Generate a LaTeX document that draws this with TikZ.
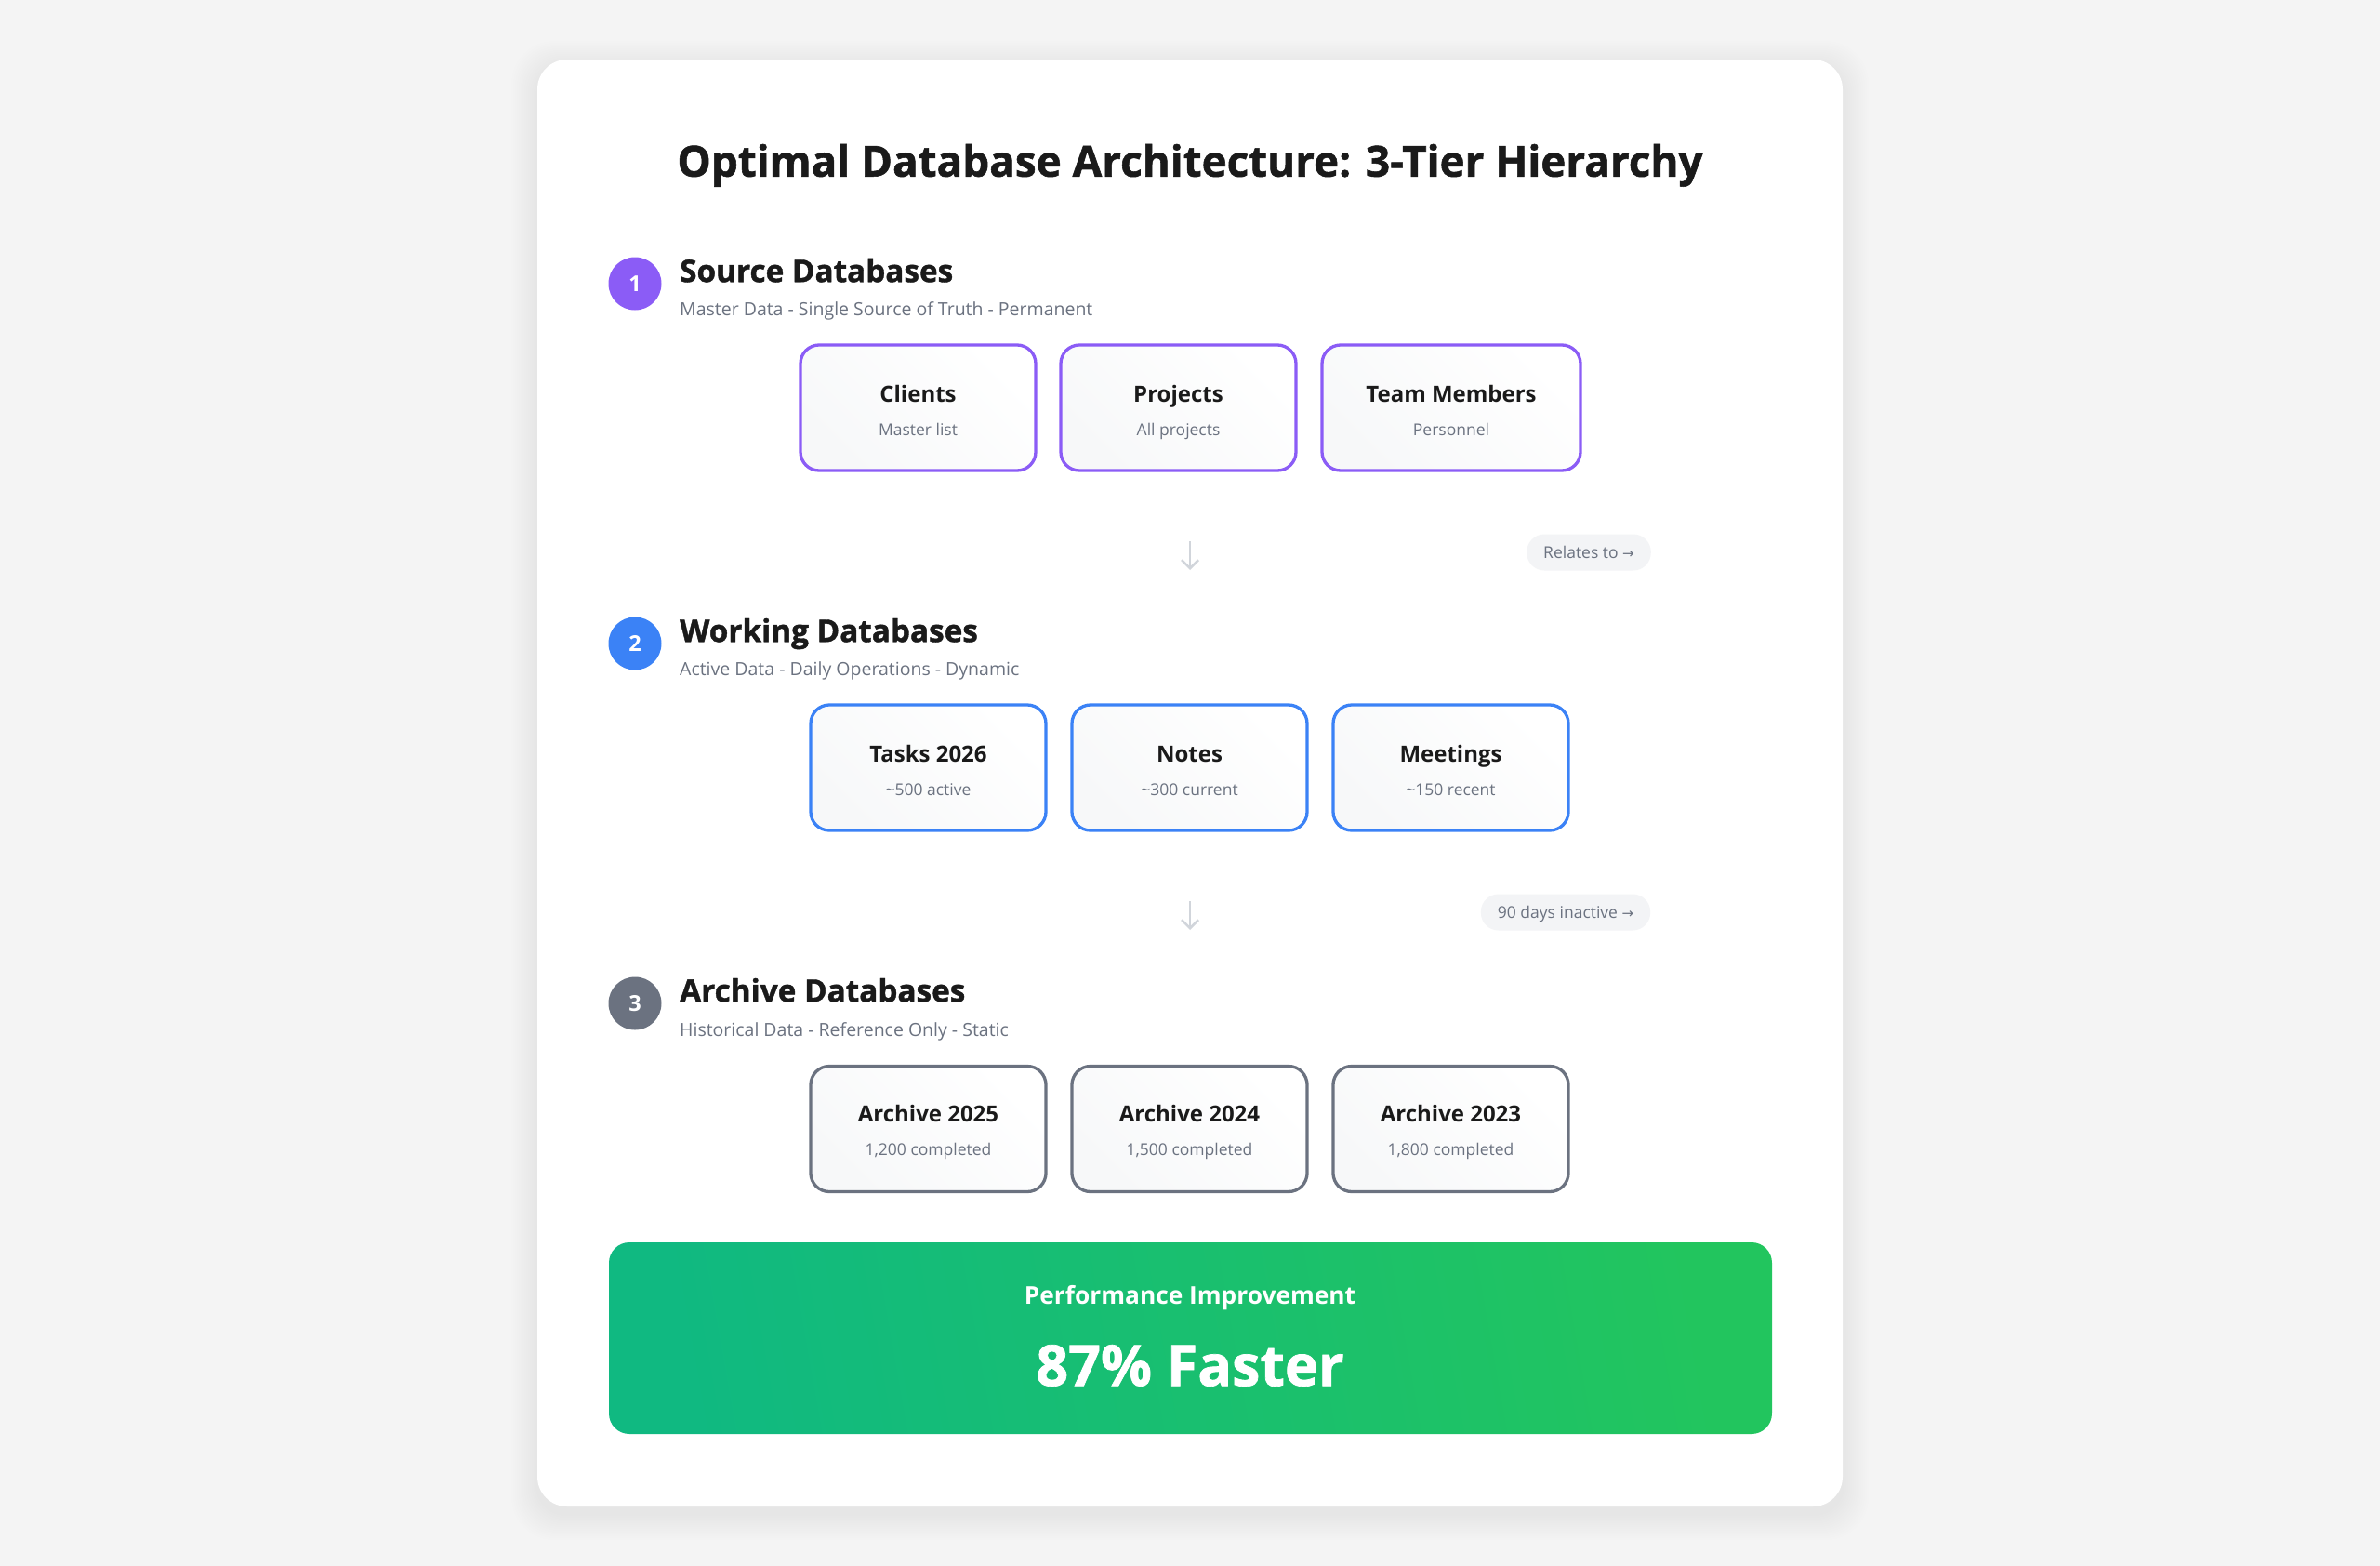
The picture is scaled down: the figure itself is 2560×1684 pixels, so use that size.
\documentclass[tikz,border=0pt]{standalone}
\usepackage{fontspec}
\setmainfont{Open Sans}
\newfontfamily\symfont{DejaVu Sans}
\newfontfamily\heavyfont{Open Sans}[BoldFeatures={FakeBold=1.2}]
\usetikzlibrary{arrows.meta}
\definecolor{pagebg}{HTML}{F4F4F4}
\definecolor{ink}{HTML}{1A1A1A}
\definecolor{muted}{HTML}{6B7280}
\definecolor{tierA}{HTML}{8B5CF6}
\definecolor{tierB}{HTML}{3B82F6}
\definecolor{tierC}{HTML}{6B7280}
\definecolor{boxfill}{HTML}{F7F8F9}
\definecolor{pillfill}{HTML}{F3F4F6}
\definecolor{arrowgray}{HTML}{D1D5DB}
\definecolor{greenA}{HTML}{10B981}
\definecolor{greenB}{HTML}{22C55E}
\tikzset{
  dbbox/.style={draw=#1, line width=3.3pt, rounded corners=20pt, left color=boxfill, right color=white, shading angle=135, minimum height=135pt, inner sep=0pt},
  tiercircle/.style={circle, fill=#1, minimum size=57pt, inner sep=0pt, text height=17pt, text depth=0pt, text=white, font=\fontsize{23.5}{26}\selectfont\bfseries},
  tiertitle/.style={anchor=west, inner sep=0pt, text height=24.5pt, text depth=0pt, text=ink, font=\heavyfont\fontsize{33.3}{40}\selectfont\bfseries},
  tiersub/.style={anchor=west, inner sep=0pt, text height=14.5pt, text depth=0pt, text=muted, font=\fontsize{19.5}{23}\selectfont},
  boxtitle/.style={inner sep=0pt, text height=18pt, text depth=0pt, text=ink, font=\fontsize{24}{30}\selectfont\bfseries},
  boxsub/.style={inner sep=0pt, text height=13pt, text depth=0pt, text=muted, font=\fontsize{17.5}{21}\selectfont},
  pill/.style={fill=pillfill, rounded corners=19pt, minimum height=39pt, inner xsep=18pt, inner ysep=0pt, text height=13pt, text depth=0pt, text=muted, font=\fontsize{17.5}{21}\selectfont},
  flowarrow/.style={draw=arrowgray, line width=2.6pt, -{Straight Barb[length=9pt,width=18pt,line width=2.6pt]}},
}
\begin{document}
\begin{tikzpicture}[x=1pt,y=-1pt]
\useasboundingbox (0,0) rectangle (2560,1684);
\fill[pagebg] (0,0) rectangle (2560,1684);
% card shadow
\foreach \i in {1,...,14}{
  \fill[black, opacity=0.005, rounded corners=32pt+\i pt] (578-2*\i, 64-2*\i+8) rectangle (1982+2*\i, 1620+2*\i+8);
}
\fill[white, rounded corners=32pt] (578,64) rectangle (1982,1620);

% title
\node[inner sep=0pt, text height=33.5pt, text depth=0pt, text=ink, font=\heavyfont\fontsize{45.8}{50}\selectfont\bfseries] (title) at (1280,173) {Optimal Database Architecture: 3-Tier Hierarchy};

% tier 1
\node[tiercircle=tierA] (c1) at (683,305) {1};
\node[tiertitle] (t1) at (731,291) {Source Databases};
\node[tiersub] (s1) at (731,332) {Master Data - Single Source of Truth - Permanent};
\node[dbbox=tierA, minimum width=253pt] (clients) at (987.5,438.5) {};
\node[dbbox=tierA, minimum width=253pt] (projects) at (1267.5,438.5) {};
\node[dbbox=tierA, minimum width=278pt] (team) at (1561,438.5) {};
\node[boxtitle] at (987.5,423) {Clients};
\node[boxsub] at (987.5,462) {Master list};
\node[boxtitle] at (1267.5,423) {Projects};
\node[boxsub] at (1267.5,462) {All projects};
\node[boxtitle] at (1561,423) {Team Members};
\node[boxsub] at (1561,462) {Personnel};

% connector 1
\coordinate (a1s) at (1280,582);
\coordinate (a1e) at (1280,613);
\draw[flowarrow] (a1s) -- (a1e);
\node[pill] (rel) at (1709,594) {Relates to {\symfont\fontsize{15}{18}\selectfont →}};

% tier 2
\node[tiercircle=tierB] (c2) at (683,692) {2};
\node[tiertitle] (t2) at (731,678) {Working Databases};
\node[tiersub] (s2) at (731,719) {Active Data - Daily Operations - Dynamic};
\node[dbbox=tierB, minimum width=253pt] (tasks) at (998.5,825.5) {};
\node[dbbox=tierB, minimum width=253pt] (notes) at (1279.5,825.5) {};
\node[dbbox=tierB, minimum width=253pt] (meet) at (1560.5,825.5) {};
\node[boxtitle] at (998.5,810) {Tasks 2026};
\node[boxsub] at (998.5,849) {\textasciitilde500 active};
\node[boxtitle] at (1279.5,810) {Notes};
\node[boxsub] at (1279.5,849) {\textasciitilde300 current};
\node[boxtitle] at (1560.5,810) {Meetings};
\node[boxsub] at (1560.5,849) {\textasciitilde150 recent};

% connector 2
\coordinate (a2s) at (1280,969);
\coordinate (a2e) at (1280,1000);
\draw[flowarrow] (a2s) -- (a2e);
\node[pill] (inact) at (1684,981) {90 days inactive {\symfont\fontsize{15}{18}\selectfont →}};

% tier 3
\node[tiercircle=tierC] (c3) at (683,1079) {3};
\node[tiertitle] (t3) at (731,1065) {Archive Databases};
\node[tiersub] (s3) at (731,1107) {Historical Data - Reference Only - Static};
\node[dbbox=tierC, minimum width=253pt] (ar25) at (998.5,1214) {};
\node[dbbox=tierC, minimum width=253pt] (ar24) at (1279.5,1214) {};
\node[dbbox=tierC, minimum width=253pt] (ar23) at (1560.5,1214) {};
\node[boxtitle] at (998.5,1197) {Archive 2025};
\node[boxsub] at (998.5,1236) {1,200 completed};
\node[boxtitle] at (1279.5,1197) {Archive 2024};
\node[boxsub] at (1279.5,1236) {1,500 completed};
\node[boxtitle] at (1560.5,1197) {Archive 2023};
\node[boxsub] at (1560.5,1236) {1,800 completed};

% banner
\node[rounded corners=22pt, left color=greenA, right color=greenB, shading angle=100, minimum width=1251pt, minimum height=206pt, inner sep=0pt] (banner) at (1280.5,1439) {};
\node[inner sep=0pt, text height=19.5pt, text depth=0pt, text=white, font=\fontsize{26.3}{32}\selectfont\bfseries] (perf) at (1280,1393) {Performance Improvement};
\node[inner sep=0pt, text height=44.5pt, text depth=0pt, text=white, font=\heavyfont\fontsize{61}{70}\selectfont\bfseries] (fast) at (1280,1468) {87\% Faster};
\end{tikzpicture}
\end{document}
